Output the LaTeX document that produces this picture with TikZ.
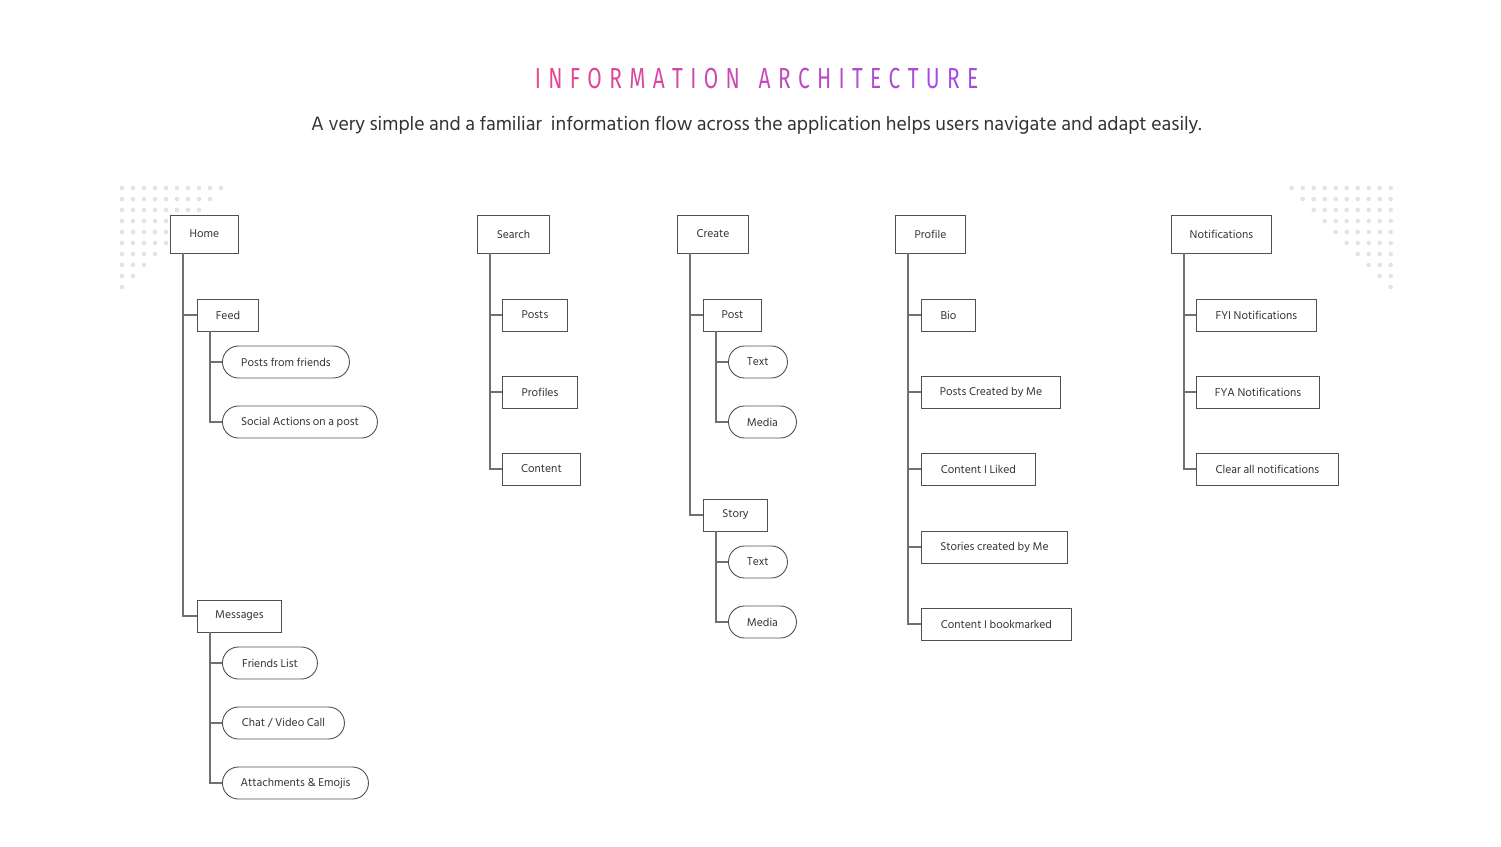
\documentclass[tikz,border=0pt]{standalone}
\usepackage{fontspec}
\setmainfont{Hind Siliguri}
\newfontfamily\titlefont{Fira Sans}
\definecolor{tpink}{HTML}{E8488C}
\definecolor{tpurple}{HTML}{A24CE6}
\definecolor{linegray}{HTML}{707070}
\definecolor{boxgray}{HTML}{505050}
\definecolor{dotgray}{HTML}{E3E3E3}
\definecolor{textgray}{HTML}{333333}
\newcommand\tletter[2]{\textcolor{tpurple!#1!tpink}{#2}\hspace{10.2pt}}
\newcommand\tlast[2]{\textcolor{tpurple!#1!tpink}{#2}}
\begin{document}
\begin{tikzpicture}[x=1pt,y=-1pt,
  box/.style={draw=boxgray, line width=0.9pt, fill=white, minimum height=32pt, inner sep=0pt,
    font=\fontsize{11.6}{13}\selectfont, text=textgray, anchor=west},
  topbox/.style={box, minimum height=38pt},
  pill/.style={box, rounded corners=16pt},
  link/.style={draw=linegray, line width=1.1pt},
  dot/.style={fill=dotgray, draw=none}]
\useasboundingbox (0,0) rectangle (1501,846);
% dot grids
\foreach \r in {0,...,9}{
  \pgfmathtruncatemacro\last{9-\r}
  \foreach \c in {0,...,\last}{
    \fill[dot] (122+11*\c,188+11*\r) circle (2.3pt);
    \fill[dot] (1390.7-11*\c,188+11*\r) circle (2.3pt);
  }
}
% title
\node (title) at (756.5,79) {\titlefont\fontsize{29}{29}\selectfont\scalebox{0.72}[1]{%
\tletter{0}{I}\tletter{4}{N}\tletter{9}{F}\tletter{13}{O}\tletter{17}{R}\tletter{22}{M}\tletter{26}{A}\tletter{30}{T}\tletter{35}{I}\tletter{39}{O}\tletter{43}{N}\hspace{16pt}\tletter{52}{A}\tletter{57}{R}\tletter{61}{C}\tletter{65}{H}\tletter{70}{I}\tletter{74}{T}\tletter{78}{E}\tletter{83}{C}\tletter{87}{T}\tletter{91}{U}\tletter{96}{R}\tlast{100}{E}}};
\node[text=textgray, font=\fontsize{19.8}{22}\selectfont] (subtitle) at (756.5,125)
  {A very simple and a familiar\ \ information flow across the application helps users navigate and adapt easily.};
% Home
\node[topbox, minimum width=68pt] (home) at (170,234) {Home};
\node[box, minimum width=61pt] (feed) at (197,315) {Feed};
\node[pill, minimum width=127pt] (pf) at (222,362) {Posts from friends};
\node[pill, minimum width=155pt] (sa) at (222,422) {Social Actions on a post};
\node[box, minimum width=84pt] (msg) at (197,616) {Messages};
\node[pill, minimum width=95pt] (fl) at (222,663) {Friends List};
\node[pill, minimum width=122pt] (cv) at (222,723) {Chat / Video Call};
\node[pill, minimum width=146pt] (ae) at (222,783) {Attachments \& Emojis};
% Search
\node[topbox, minimum width=72pt] (search) at (477,234) {Search};
\node[box, minimum width=65pt] (sposts) at (502,315) {Posts};
\node[box, minimum width=75pt] (sprof) at (502,392) {Profiles};
\node[box, minimum width=78pt] (scont) at (502,469) {Content};
% Create
\node[topbox, minimum width=71pt] (create) at (677,234) {Create};
\node[box, minimum width=58pt] (post) at (703,315) {Post};
\node[pill, minimum width=59pt] (ptext) at (728,362) {Text};
\node[pill, minimum width=68pt] (pmedia) at (728,422) {Media};
\node[box, minimum width=64pt] (story) at (703,515) {Story};
\node[pill, minimum width=59pt] (stext) at (728,562) {Text};
\node[pill, minimum width=68pt] (smedia) at (728,622) {Media};
% Profile
\node[topbox, minimum width=70pt] (profile) at (895,234) {Profile};
\node[box, minimum width=54pt] (bio) at (921,315) {Bio};
\node[box, minimum width=139pt] (pcm) at (921,392) {Posts Created by Me};
\node[box, minimum width=114pt] (cil) at (921,469) {Content I Liked};
\node[box, minimum width=146pt] (scm) at (921,547) {Stories created by Me};
\node[box, minimum width=150pt] (cib) at (921,624) {Content I bookmarked};
% Notifications
\node[topbox, minimum width=100pt] (notif) at (1171,234) {Notifications};
\node[box, minimum width=120pt] (fyi) at (1196,315) {FYI Notifications};
\node[box, minimum width=123pt] (fya) at (1196,392) {FYA Notifications};
\node[box, minimum width=142pt] (clr) at (1196,469) {Clear all notifications};
% connectors
\foreach \p/\c in {home/feed, home/msg, feed/pf, feed/sa, msg/fl, msg/cv, msg/ae,
  search/sposts, search/sprof, search/scont,
  create/post, create/story, post/ptext, post/pmedia, story/stext, story/smedia,
  profile/bio, profile/pcm, profile/cil, profile/scm, profile/cib,
  notif/fyi, notif/fya, notif/clr}
  \draw[link] ([xshift=13pt]\p.south west) |- (\c.west);
\end{tikzpicture}
\end{document}
